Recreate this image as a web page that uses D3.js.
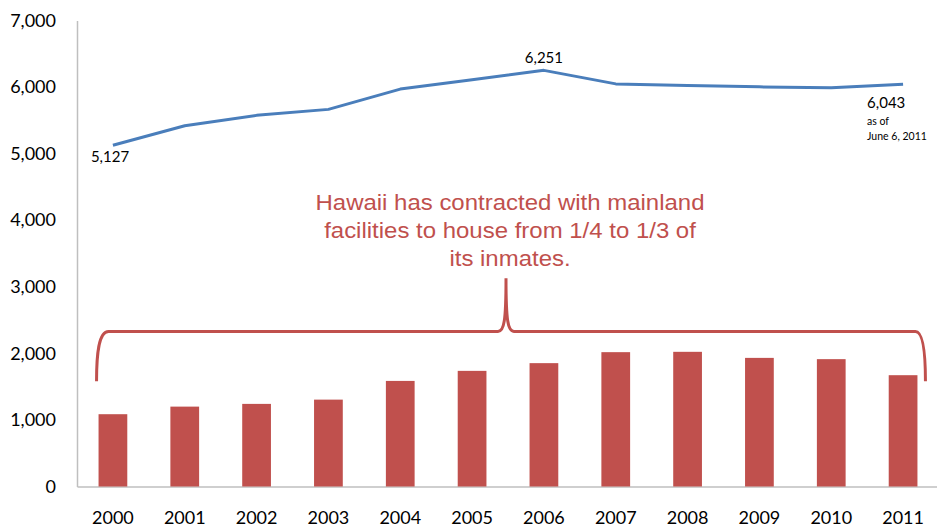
<!DOCTYPE html>
<html>
<head>
<meta charset="utf-8">
<script src="https://cdn.jsdelivr.net/npm/d3@7"></script>
<style>
  html, body { margin: 0; padding: 0; background: #fff; }
  svg { display: block; }
</style>
</head>
<body>
<svg id="chart" width="937" height="530"></svg>
<script>
// Hawaii inmate population, 2000–2011
const years = ["2000","2001","2002","2003","2004","2005","2006","2007","2008","2009","2010","2011"];
const totalInmates = [5127, 5420, 5575, 5665, 5970, 6110, 6251, 6048, 6023, 6003, 5988, 6043];
const mainlandInmates = [1086, 1200, 1241, 1305, 1586, 1737, 1853, 2018, 2023, 1932, 1913, 1672];
const yTicks = [0, 1000, 2000, 3000, 4000, 5000, 6000, 7000];
const noteLines = [
  "Hawaii has contracted with mainland",
  "facilities to house from 1/4 to 1/3 of",
  "its inmates."
];

const svg = d3.select("#chart");
const labelFont = "Lato, 'Open Sans', sans-serif";
const red = "#C0504D";
const blue = "#4A7EBB";

const x = d3.scaleBand().domain(years).range([77, 939]).paddingInner(0.6).paddingOuter(0.3);
const y = d3.scaleLinear().domain([0, 7000]).range([486.5, 20.5]);
const cx = d => x(d) + x.bandwidth() / 2;

// Y axis (line only, no tick marks)
const yAxis = svg.append("g")
  .attr("transform", "translate(77,0)")
  .call(d3.axisLeft(y).tickValues(yTicks).tickSize(0).tickPadding(21).tickFormat(d3.format(",")));
yAxis.select(".domain").attr("stroke", "#BFBFBF").attr("stroke-width", 1.5);
yAxis.selectAll("text").attr("font-family", labelFont).attr("font-size", 18).attr("fill", "#000");

// X axis
const xAxis = svg.append("g")
  .attr("transform", "translate(0,486.5)")
  .call(d3.axisBottom(x).tickSize(0).tickPadding(25));
xAxis.select(".domain").attr("stroke", "#BFBFBF").attr("stroke-width", 1.5);
xAxis.selectAll("text").attr("font-family", labelFont).attr("font-size", 18).attr("fill", "#000");

// Bars: inmates housed on the mainland
svg.append("g").selectAll("rect")
  .data(years)
  .join("rect")
  .attr("x", d => x(d))
  .attr("width", x.bandwidth())
  .attr("y", (d, i) => y(mainlandInmates[i]))
  .attr("height", (d, i) => y(0) - y(mainlandInmates[i]))
  .attr("fill", red);

// Line: total inmates
const line = d3.line().x((d, i) => cx(years[i])).y(d => y(d));
svg.append("path")
  .datum(totalInmates)
  .attr("d", line)
  .attr("fill", "none")
  .attr("stroke", blue)
  .attr("stroke-width", 3)
  .attr("stroke-linejoin", "round");

// Data labels on the line
const lbl = svg.append("g").attr("font-family", labelFont).attr("fill", "#000");
lbl.append("text").attr("x", cx("2000") - 22).attr("y", y(totalInmates[0]) + 17)
  .attr("font-size", 15).text(d3.format(",")(totalInmates[0]));
lbl.append("text").attr("x", cx("2006")).attr("y", y(totalInmates[6]) - 7)
  .attr("text-anchor", "middle").attr("font-size", 15).text(d3.format(",")(totalInmates[6]));
const last = totalInmates[totalInmates.length - 1];
lbl.append("text").attr("x", cx("2011") - 36).attr("y", y(last) + 24)
  .attr("font-size", 15).text(d3.format(",")(last));
lbl.append("text").attr("x", cx("2011") - 36).attr("y", y(last) + 41)
  .attr("font-size", 10.5).text("as of");
lbl.append("text").attr("x", cx("2011") - 36).attr("y", y(last) + 56)
  .attr("font-size", 10.5).text("June 6, 2011");

// Brace spanning all bars
const bx0 = x("2000") - 2, bx1 = x("2011") + x.bandwidth() + 8;
const bBot = y(1580), bTop = y(2330);
const mid = (x("2006") + x("2005") + x.bandwidth()) / 2 - 2;
const peak = y(3130);
const brace = d3.path();
brace.moveTo(bx0, bBot);
brace.bezierCurveTo(bx0, bTop + 23, bx0 + 2, bTop, bx0 + 12, bTop);
brace.lineTo(mid - 8, bTop);
brace.bezierCurveTo(mid - 2, bTop, mid, bTop - 10, mid, peak);
brace.bezierCurveTo(mid, bTop - 10, mid + 2, bTop, mid + 8, bTop);
brace.lineTo(bx1 - 10, bTop);
brace.bezierCurveTo(bx1 - 2, bTop, bx1, bTop + 25, bx1, bBot);
svg.append("path")
  .attr("d", brace.toString())
  .attr("fill", "none")
  .attr("stroke", red)
  .attr("stroke-width", 3);

// Annotation text (slightly widened face)
svg.append("g")
  .attr("transform", "translate(510,0) scale(1.09,1)")
  .attr("font-family", "'Liberation Sans', Arial, sans-serif")
  .attr("font-size", 22)
  .attr("fill", red)
  .attr("text-anchor", "middle")
  .selectAll("text")
  .data(noteLines)
  .join("text")
  .attr("x", 0)
  .attr("y", (d, i) => 210 + i * 28)
  .text(d => d);
</script>
</body>
</html>
